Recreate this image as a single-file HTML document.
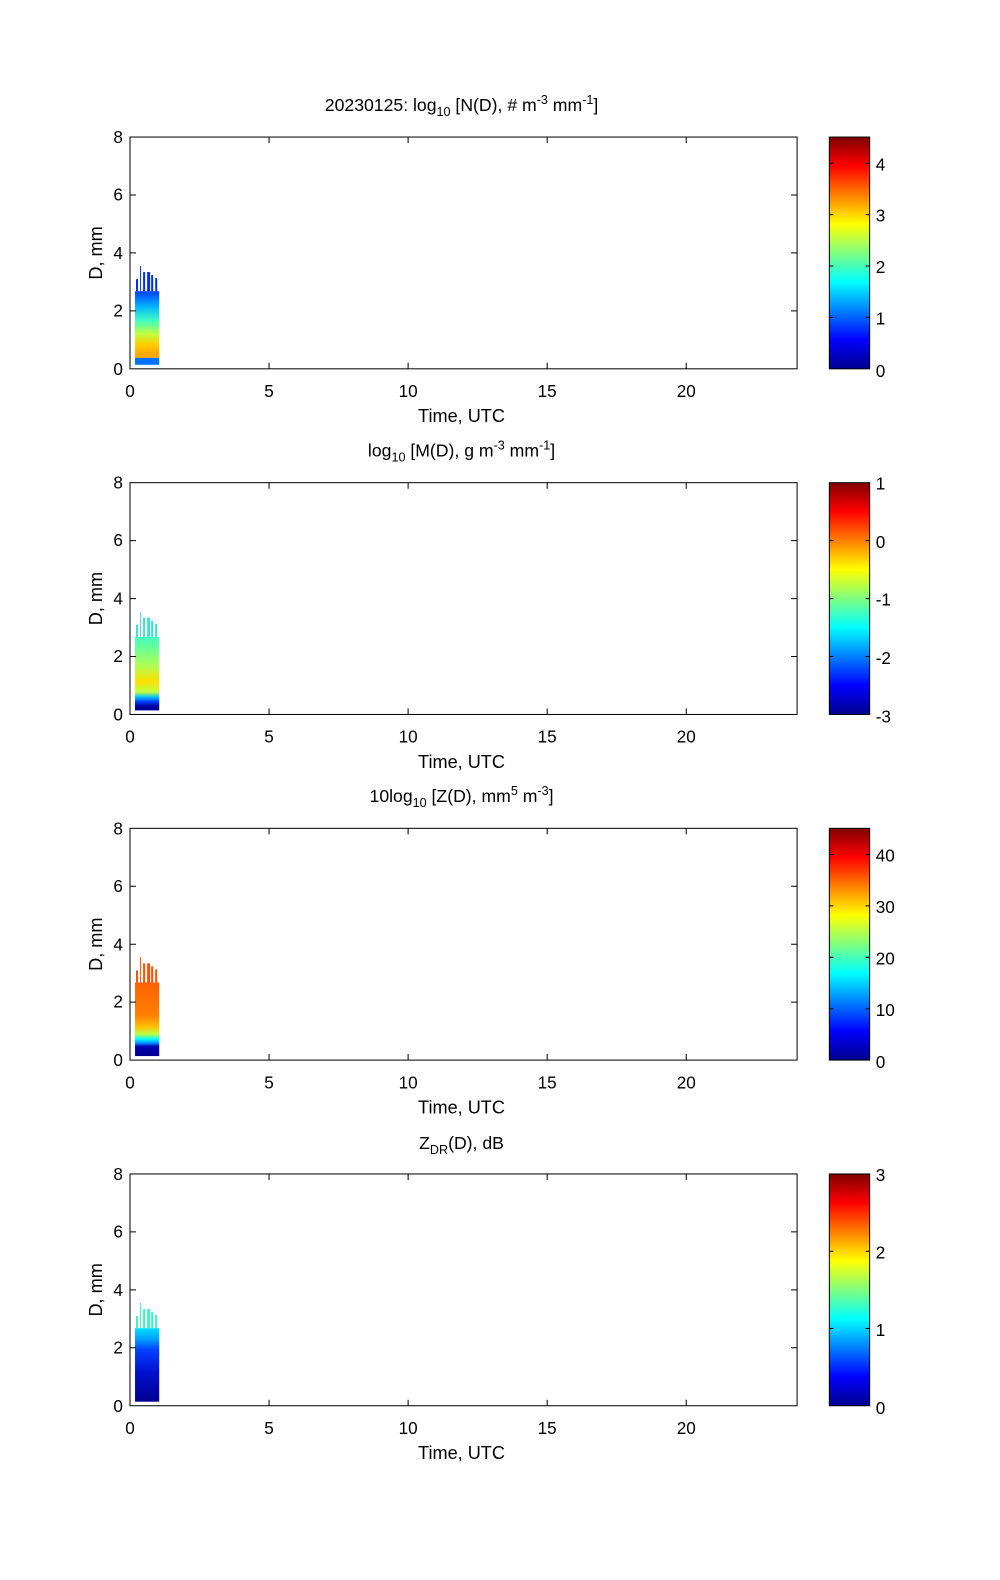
<!DOCTYPE html>
<html><head><meta charset="utf-8"><style>
html,body{margin:0;padding:0;background:#fff;}
svg{display:block;}
text{font-family:"Liberation Sans",Arial,sans-serif;fill:#000;}
</style></head><body>
<svg width="1000" height="1580" viewBox="0 0 1000 1580" xmlns="http://www.w3.org/2000/svg">
<defs>
<linearGradient id="jet" x1="0" y1="1" x2="0" y2="0">
<stop offset="0" stop-color="#00008f"/><stop offset="0.125" stop-color="#0000ff"/>
<stop offset="0.375" stop-color="#00ffff"/><stop offset="0.625" stop-color="#ffff00"/>
<stop offset="0.875" stop-color="#ff0000"/><stop offset="1" stop-color="#800000"/>
</linearGradient>
<linearGradient id="g1" x1="0" y1="0" x2="0" y2="1">
<stop offset="0" stop-color="#0040ff"/><stop offset="0.2" stop-color="#00b0ff"/>
<stop offset="0.4" stop-color="#40ffc0"/><stop offset="0.58" stop-color="#c0ff40"/>
<stop offset="0.72" stop-color="#ffd000"/><stop offset="0.88" stop-color="#ffa000"/>
<stop offset="0.9" stop-color="#ffc000"/>
<stop offset="0.91" stop-color="#0070ff"/><stop offset="1" stop-color="#0070ff"/>
</linearGradient>
<linearGradient id="g2" x1="0" y1="0" x2="0" y2="1">
<stop offset="0" stop-color="#40ffc0"/><stop offset="0.4" stop-color="#b0ff50"/>
<stop offset="0.6" stop-color="#ffe000"/><stop offset="0.75" stop-color="#c0ff40"/>
<stop offset="0.82" stop-color="#00c0ff"/><stop offset="0.88" stop-color="#0040ff"/>
<stop offset="0.94" stop-color="#0000a0"/><stop offset="1" stop-color="#000090"/>
</linearGradient>
<linearGradient id="g3" x1="0" y1="0" x2="0" y2="1">
<stop offset="0" stop-color="#ff6000"/><stop offset="0.45" stop-color="#ff8000"/>
<stop offset="0.6" stop-color="#ffc000"/><stop offset="0.7" stop-color="#c0ff40"/>
<stop offset="0.77" stop-color="#00ffff"/><stop offset="0.83" stop-color="#0080ff"/>
<stop offset="0.87" stop-color="#0000b0"/><stop offset="1" stop-color="#000090"/>
</linearGradient>
<linearGradient id="g4" x1="0" y1="0" x2="0" y2="1">
<stop offset="0" stop-color="#00e0ff"/><stop offset="0.15" stop-color="#00a0ff"/>
<stop offset="0.3" stop-color="#0040ff"/><stop offset="0.6" stop-color="#0010d0"/>
<stop offset="1" stop-color="#000090"/>
</linearGradient>
</defs>
<g transform="scale(1.0077)">
<g>
<text x="458" y="110" font-size="17.5" text-anchor="middle">20230125: log<tspan font-size="12.5" dy="5">10</tspan><tspan dy="-5"> [N(D), # m</tspan><tspan font-size="12.5" dy="-7">-3</tspan><tspan dy="7"> mm</tspan><tspan font-size="12.5" dy="-7">-1</tspan><tspan dy="7">]</tspan></text>
<rect x="134" y="289" width="24" height="73" fill="url(#g1)"/>
<g fill="#0030e0"><rect x="135" y="277" width="2" height="12"/><rect x="139" y="264" width="1" height="25"/><rect x="142" y="270" width="2" height="19"/><rect x="146" y="270" width="3" height="19"/><rect x="150" y="273" width="2" height="16"/><rect x="154" y="276" width="2" height="13"/></g>
</g>
<g>
<text x="458" y="453" font-size="17.5" text-anchor="middle">log<tspan font-size="12.5" dy="5">10</tspan><tspan dy="-5"> [M(D), g m</tspan><tspan font-size="12.5" dy="-7">-3</tspan><tspan dy="7"> mm</tspan><tspan font-size="12.5" dy="-7">-1</tspan><tspan dy="7">]</tspan></text>
<rect x="134" y="632" width="24" height="73" fill="url(#g2)"/>
<g fill="#40e0d0"><rect x="135" y="620" width="2" height="12"/><rect x="139" y="607" width="1" height="25"/><rect x="142" y="613" width="2" height="19"/><rect x="146" y="613" width="3" height="19"/><rect x="150" y="616" width="2" height="16"/><rect x="154" y="619" width="2" height="13"/></g>
</g>
<g>
<text x="458" y="796" font-size="17.5" text-anchor="middle">10log<tspan font-size="12.5" dy="5">10</tspan><tspan dy="-5"> [Z(D),  mm</tspan><tspan font-size="12.5" dy="-7">5</tspan><tspan dy="7"> m</tspan><tspan font-size="12.5" dy="-7">-3</tspan><tspan dy="7">]</tspan></text>
<rect x="134" y="975" width="24" height="73" fill="url(#g3)"/>
<g fill="#ff5000"><rect x="135" y="963" width="2" height="12"/><rect x="139" y="950" width="1" height="25"/><rect x="142" y="956" width="2" height="19"/><rect x="146" y="956" width="3" height="19"/><rect x="150" y="959" width="2" height="16"/><rect x="154" y="962" width="2" height="13"/></g>
</g>
<g>
<text x="458" y="1140" font-size="17.5" text-anchor="middle">Z<tspan font-size="12.5" dy="5">DR</tspan><tspan dy="-5">(D), dB</tspan></text>
<rect x="134" y="1318" width="24" height="73" fill="url(#g4)"/>
<g fill="#40f0c0"><rect x="135" y="1306" width="2" height="12"/><rect x="139" y="1293" width="1" height="25"/><rect x="142" y="1299" width="2" height="19"/><rect x="146" y="1299" width="3" height="19"/><rect x="150" y="1302" width="2" height="16"/><rect x="154" y="1305" width="2" height="13"/></g>
</g>

<rect x="129" y="136" width="662" height="230" fill="none" stroke="#000" stroke-width="1"/>
<rect x="823" y="136" width="40" height="230" fill="url(#jet)" stroke="#000" stroke-width="1"/>
<rect x="129" y="479" width="662" height="230" fill="none" stroke="#000" stroke-width="1"/>
<rect x="823" y="479" width="40" height="230" fill="url(#jet)" stroke="#000" stroke-width="1"/>
<rect x="129" y="822" width="662" height="230" fill="none" stroke="#000" stroke-width="1"/>
<rect x="823" y="822" width="40" height="230" fill="url(#jet)" stroke="#000" stroke-width="1"/>
<rect x="129" y="1165" width="662" height="230" fill="none" stroke="#000" stroke-width="1"/>
<rect x="823" y="1165" width="40" height="230" fill="url(#jet)" stroke="#000" stroke-width="1"/>

<g stroke="#000" stroke-width="1">
<path d="M267 366v-6M405 366v-6M543 366v-6M681 366v-6M267 136v6M405 136v6M543 136v6M681 136v6
M129 308.5h6M129 251h6M129 193.5h6M791 308.5h-6M791 251h-6M791 193.5h-6
M267 709v-6M405 709v-6M543 709v-6M681 709v-6M267 479v6M405 479v6M543 479v6M681 479v6
M129 651.5h6M129 594h6M129 536.5h6M791 651.5h-6M791 594h-6M791 536.5h-6
M267 1052v-6M405 1052v-6M543 1052v-6M681 1052v-6M267 822v6M405 822v6M543 822v6M681 822v6
M129 994.5h6M129 937h6M129 879.5h6M791 994.5h-6M791 937h-6M791 879.5h-6
M267 1395v-6M405 1395v-6M543 1395v-6M681 1395v-6M267 1165v6M405 1165v6M543 1165v6M681 1165v6
M129 1337.5h6M129 1280h6M129 1222.5h6M791 1337.5h-6M791 1280h-6M791 1222.5h-6
M823 315h4M863 315h-4M823 264h4M863 264h-4M823 213h4M863 213h-4M823 162h4M863 162h-4
M823 651.5h4M863 651.5h-4M823 594h4M863 594h-4M823 536.5h4M863 536.5h-4
M823 1001h4M863 1001h-4M823 950h4M863 950h-4M823 899h4M863 899h-4M823 848h4M863 848h-4
M823 1318.3h4M863 1318.3h-4M823 1241.7h4M863 1241.7h-4" fill="none"/>
</g>

<g font-size="17">
<g text-anchor="middle">
<text x="129" y="394">0</text><text x="267" y="394">5</text><text x="405" y="394">10</text><text x="543" y="394">15</text><text x="681" y="394">20</text>
<text x="129" y="737">0</text><text x="267" y="737">5</text><text x="405" y="737">10</text><text x="543" y="737">15</text><text x="681" y="737">20</text>
<text x="129" y="1080">0</text><text x="267" y="1080">5</text><text x="405" y="1080">10</text><text x="543" y="1080">15</text><text x="681" y="1080">20</text>
<text x="129" y="1423">0</text><text x="267" y="1423">5</text><text x="405" y="1423">10</text><text x="543" y="1423">15</text><text x="681" y="1423">20</text>
<text x="458" y="419" font-size="18">Time, UTC</text>
<text x="458" y="762" font-size="18">Time, UTC</text>
<text x="458" y="1105" font-size="18">Time, UTC</text>
<text x="458" y="1448" font-size="18">Time, UTC</text>
</g>
<g text-anchor="end">
<text x="122" y="372">0</text><text x="122" y="314">2</text><text x="122" y="257">4</text><text x="122" y="199">6</text><text x="122" y="142">8</text>
<text x="122" y="715">0</text><text x="122" y="657">2</text><text x="122" y="600">4</text><text x="122" y="542">6</text><text x="122" y="485">8</text>
<text x="122" y="1058">0</text><text x="122" y="1000">2</text><text x="122" y="943">4</text><text x="122" y="885">6</text><text x="122" y="828">8</text>
<text x="122" y="1401">0</text><text x="122" y="1343">2</text><text x="122" y="1286">4</text><text x="122" y="1228">6</text><text x="122" y="1171">8</text>
</g>
<text transform="translate(101,251) rotate(-90)" text-anchor="middle" font-size="18">D, mm</text>
<text transform="translate(101,594) rotate(-90)" text-anchor="middle" font-size="18">D, mm</text>
<text transform="translate(101,937) rotate(-90)" text-anchor="middle" font-size="18">D, mm</text>
<text transform="translate(101,1280) rotate(-90)" text-anchor="middle" font-size="18">D, mm</text>
<text x="869" y="374">0</text><text x="869" y="322">1</text><text x="869" y="271">2</text><text x="869" y="220">3</text><text x="869" y="169">4</text>
<text x="869" y="717">-3</text><text x="869" y="659">-2</text><text x="869" y="601">-1</text><text x="869" y="544">0</text><text x="869" y="486">1</text>
<text x="869" y="1060">0</text><text x="869" y="1008">10</text><text x="869" y="957">20</text><text x="869" y="906">30</text><text x="869" y="855">40</text>
<text x="869" y="1403">0</text><text x="869" y="1326">1</text><text x="869" y="1249">2</text><text x="869" y="1172">3</text>
</g>
</g>
</svg>
</body></html>
